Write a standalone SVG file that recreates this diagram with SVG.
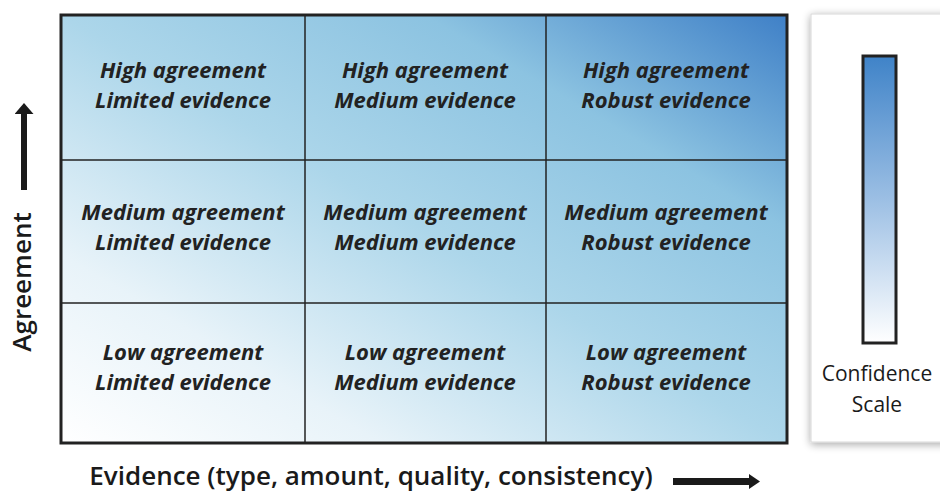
<svg xmlns="http://www.w3.org/2000/svg" width="940" height="496" viewBox="0 0 940 496">
<defs>
<linearGradient id="grid" x1="0" y1="1" x2="1" y2="0">
<stop offset="0" stop-color="#ffffff"/>
<stop offset="0.22" stop-color="#e8f3f9"/>
<stop offset="0.5" stop-color="#acd6ea"/>
<stop offset="0.75" stop-color="#8cc3e1"/>
<stop offset="1" stop-color="#3f80c7"/>
</linearGradient>
<linearGradient id="scale" x1="0" y1="0" x2="0" y2="1">
<stop offset="0" stop-color="#3f83c8"/>
<stop offset="0.5" stop-color="#9cbfe4"/>
<stop offset="1" stop-color="#ffffff"/>
</linearGradient>
<filter id="shadow" x="-20%" y="-10%" width="140%" height="120%">
<feGaussianBlur in="SourceAlpha" stdDeviation="4"/>
<feOffset dx="0" dy="2"/>
<feComponentTransfer><feFuncA type="linear" slope="0.35"/></feComponentTransfer>
<feMerge><feMergeNode/><feMergeNode in="SourceGraphic"/></feMerge>
</filter>
<marker id="ahv" viewBox="0 0 10 10" preserveAspectRatio="none" refX="0" refY="5" markerWidth="11" markerHeight="19" orient="auto" markerUnits="userSpaceOnUse">
<path d="M0,0 L10,5 L0,10 z" fill="#1a1a1a"/>
</marker>
<marker id="ahh" viewBox="0 0 10 10" preserveAspectRatio="none" refX="0" refY="5" markerWidth="11" markerHeight="15" orient="auto" markerUnits="userSpaceOnUse">
<path d="M0,0 L10,5 L0,10 z" fill="#1a1a1a"/>
</marker>
</defs>
<style>
.cell { font-family: "Open Sans", "Liberation Sans", sans-serif; font-style: italic; font-weight: 700; font-size: 22px; fill: #222; text-anchor: middle; }
.axis { font-family: "Open Sans", "Liberation Sans", sans-serif; font-weight: 600; font-size: 26px; fill: #1a1a1a; }
.lbl { font-family: "Open Sans", "Liberation Sans", sans-serif; font-size: 21px; fill: #1a1a1a; text-anchor: middle; }
.grid { fill: none; stroke: #222; }
</style>
<rect width="940" height="496" fill="#ffffff"/>
<g id="grid-bg">
<rect x="61" y="15" width="726" height="428" fill="url(#grid)"/>
</g>
<g id="gridlines">
<line class="grid" x1="305" y1="15" x2="305" y2="443" stroke-width="1.5"/>
<line class="grid" x1="546" y1="15" x2="546" y2="443" stroke-width="1.5"/>
<line class="grid" x1="61" y1="160" x2="787" y2="160" stroke-width="1.5"/>
<line class="grid" x1="61" y1="303" x2="787" y2="303" stroke-width="1.5"/>
<rect class="grid" x="61" y="15" width="726" height="428" stroke-width="3"/>
</g>
<g id="cell-high-limited"><text class="cell" x="183" y="78">High agreement</text><text class="cell" x="183" y="108">Limited evidence</text></g>
<g id="cell-high-medium"><text class="cell" x="425" y="78">High agreement</text><text class="cell" x="425" y="108">Medium evidence</text></g>
<g id="cell-high-robust"><text class="cell" x="666" y="78">High agreement</text><text class="cell" x="666" y="108">Robust evidence</text></g>
<g id="cell-medium-limited"><text class="cell" x="183" y="220">Medium agreement</text><text class="cell" x="183" y="250">Limited evidence</text></g>
<g id="cell-medium-medium"><text class="cell" x="425" y="220">Medium agreement</text><text class="cell" x="425" y="250">Medium evidence</text></g>
<g id="cell-medium-robust"><text class="cell" x="666" y="220">Medium agreement</text><text class="cell" x="666" y="250">Robust evidence</text></g>
<g id="cell-low-limited"><text class="cell" x="183" y="360">Low agreement</text><text class="cell" x="183" y="390">Limited evidence</text></g>
<g id="cell-low-medium"><text class="cell" x="425" y="360">Low agreement</text><text class="cell" x="425" y="390">Medium evidence</text></g>
<g id="cell-low-robust"><text class="cell" x="666" y="360">Low agreement</text><text class="cell" x="666" y="390">Robust evidence</text></g>
<g id="confidence-panel">
<rect x="811" y="14" width="140" height="428" fill="#ffffff" stroke="#d8d8d8" stroke-width="1" filter="url(#shadow)"/>
<rect x="863" y="56" width="33" height="287" fill="url(#scale)" stroke="#222" stroke-width="3"/>
<text class="lbl" x="877" y="381">Confidence</text>
<text class="lbl" x="877" y="412">Scale</text>
</g>
<g id="axis-labels">
<text class="axis" transform="translate(31,282) rotate(-90)" text-anchor="middle">Agreement</text>
<text class="axis" x="371" y="485" text-anchor="middle">Evidence (type, amount, quality, consistency)</text>
</g>
<g id="connectors">
<line x1="24" y1="190" x2="24" y2="114" stroke="#1a1a1a" stroke-width="6" marker-end="url(#ahv)"/>
<line x1="673" y1="481.5" x2="749" y2="481.5" stroke="#1a1a1a" stroke-width="7" marker-end="url(#ahh)"/>
</g>
</svg>
